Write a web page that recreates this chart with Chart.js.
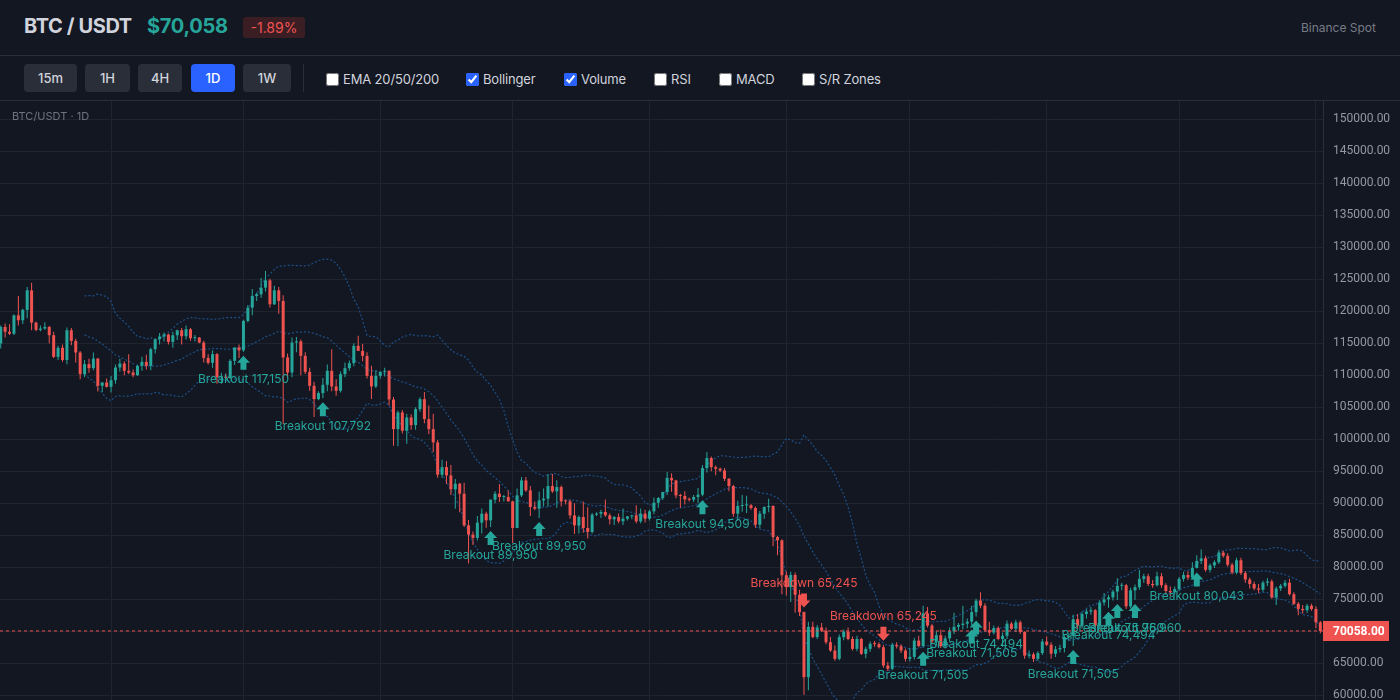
<!DOCTYPE html>
<html lang="en">
<head>
<meta charset="utf-8">
<title>BTC / USDT</title>
<script src="https://cdn.jsdelivr.net/npm/chart.js@4.4.1/dist/chart.umd.min.js"></script>
<style>
  * { box-sizing: border-box; margin: 0; padding: 0; }
  body {
    width: 1400px; height: 700px; overflow: hidden; position: relative;
    background: #131722; color: #d1d4dc;
    font-family: Inter, 'Noto Sans', Roboto, sans-serif;
  }
  .header { position: absolute; left: 0; top: 0; width: 1400px; height: 56px; border-bottom: 1px solid #2a2e39; }
  .pair { position: absolute; left: 24px; top: 14px; font-size: 20px; font-weight: 700; color: #d1d4dc; letter-spacing: -0.4px; }
  .price { position: absolute; left: 147px; top: 14px; font-size: 20px; font-weight: 700; color: #26a69a; letter-spacing: -0.3px; }
  .change {
    position: absolute; left: 243px; top: 17px; width: 62px; height: 21px; line-height: 21px;
    text-align: center; font-size: 14px; color: #ef5350; background: #3b1e24; border-radius: 3px;
  }
  .source { position: absolute; right: 24px; top: 20px; font-size: 12px; color: #787b86; }

  .toolbar { position: absolute; left: 0; top: 56px; width: 1400px; height: 45px; border-bottom: 1px solid #2a2e39; }
  .tf {
    position: absolute; top: 8px; height: 28px; line-height: 28px; text-align: center;
    font-size: 13px; font-weight: 500; color: #d1d4dc; background: #2a2e39; border-radius: 4px;
  }
  .tf.active { background: #2962ff; color: #ffffff; }
  .sep { position: absolute; left: 303px; top: 8px; width: 1px; height: 28px; background: #2a2e39; }
  .opt { position: absolute; top: 15px; display: flex; align-items: center; font-size: 13px; color: #d1d4dc; letter-spacing: -0.15px; }
  .opt input { width: 13px; height: 13px; margin: 0 4px 0 0; accent-color: #2962ff; }

  #chart-wrap { position: absolute; left: 0; top: 101px; width: 1400px; height: 599px; }
  .chart-title { position: absolute; left: 12px; top: 109px; font-size: 11px; color: #6f7380; z-index: 2; }
</style>
</head>
<body>

<div class="header">
  <div class="pair">BTC / USDT</div>
  <div class="price" id="last-price">$70,058</div>
  <div class="change" id="last-change">-1.89%</div>
  <div class="source">Binance Spot</div>
</div>

<div class="toolbar">
  <div class="tf" style="left:24px;width:53px">15m</div>
  <div class="tf" style="left:85px;width:45px">1H</div>
  <div class="tf" style="left:138px;width:44px">4H</div>
  <div class="tf active" style="left:191px;width:44px">1D</div>
  <div class="tf" style="left:243px;width:48px">1W</div>
  <div class="sep"></div>
  <label class="opt" style="left:326px"><input type="checkbox">EMA 20/50/200</label>
  <label class="opt" style="left:466px"><input type="checkbox" checked>Bollinger</label>
  <label class="opt" style="left:564px"><input type="checkbox" checked>Volume</label>
  <label class="opt" style="left:654px"><input type="checkbox">RSI</label>
  <label class="opt" style="left:719px"><input type="checkbox">MACD</label>
  <label class="opt" style="left:802px"><input type="checkbox">S/R Zones</label>
</div>

<div class="chart-title">BTC/USDT · 1D</div>
<div id="chart-wrap"><canvas id="btcChart" width="1400" height="599"></canvas></div>

<script>
// Daily candles, first one is 7 Aug
const firstDay = Date.UTC(2025, 7, 7);

const opens = [
  114960, 117560, 116800, 116500, 119380, 118600, 120220, 123280, 118240, 117100,
  117300, 117560, 116260, 112880, 114300, 112400, 117040, 115380, 113560, 110180,
  111740, 111120, 112620, 108360, 108880, 108200, 109240, 111220, 111840, 110700,
  110440, 110020, 111480, 112100, 111480, 114080, 115640, 116060, 116370, 115220,
  116260, 117040, 116100, 117200, 115800, 115900, 115120, 112720, 111950, 113300,
  109700, 109800, 109600, 112260, 114340, 113900, 118500, 120580, 122400, 122660,
  123700, 124840, 121100, 123280, 121620, 112800, 110440, 115120, 115300, 113040,
  110540, 108360, 106280, 107220, 108520, 110700, 108260, 107580, 110180, 111120,
  111900, 114600, 113820, 113040, 109920, 108260, 109920, 110540, 110700, 106220,
  101600, 104200, 101340, 103420, 102220, 104720, 106280, 103160, 101600, 99520,
  94470, 95660, 94360, 92180, 93060, 91500, 86560, 85110, 84590, 86980,
  88380, 87340, 90570, 91500, 90980, 91000, 90310, 86150, 91240, 93580,
  92020, 89420, 89160, 90460, 90720, 92700, 91870, 92540, 90310, 90300,
  88120, 86560, 87860, 86150, 85520, 88230, 88380, 88640, 88120, 87500,
  87860, 87190, 87600, 87970, 88120, 87190, 88380, 87600, 88750, 90100,
  90820, 91760, 93980, 93580, 91240, 91140, 90620, 90560, 90980, 91350,
  95510, 97070, 95660, 95400, 95140, 93840, 92700, 88380, 89580, 89680,
  89700, 89270, 86670, 88380, 89420, 89580, 84740, 84220, 78760, 76900,
  78800, 75700, 73000, 62840, 70700, 69100, 70600, 70100, 68300, 67000,
  65700, 69100, 69960, 68800, 67260, 68800, 66480, 67260, 68040, 68000,
  67520, 64660, 64140, 67880, 67670, 67000, 65700, 66000, 68560, 67700,
  72800, 70900, 68400, 69400, 67700, 68900, 70000, 70700, 71000, 71200,
  71500, 73000, 74800, 74000, 70200, 69800, 70500, 68800, 69300, 71200,
  70400, 71400, 69900, 66200, 66400, 65700, 66600, 68400, 67900, 66500,
  67200, 67400, 69100, 69300, 71900, 70900, 72700, 73100, 73300, 70900,
  74500, 75000, 75300, 76200, 77100, 77200, 73900, 76400, 76900, 78200,
  78600, 77400, 77200, 78600, 77200, 76300, 76100, 76600, 78200, 78800,
  78400, 79900, 81000, 81400, 79600, 80300, 80800, 82300, 81800, 80400,
  79200, 81100, 79100, 78100, 77400, 76700, 76500, 77600, 77800, 75300,
  76700, 77100, 77600, 75800, 74300, 73500, 73300, 74000, 73500, 71410
];

const highs = [
  117800, 118100, 117980, 119500, 122400, 120400, 123800, 124480, 118350, 117800,
  118300, 117700, 116800, 114600, 114800, 117460, 117400, 115700, 113800, 112400,
  112600, 113560, 112700, 108900, 109500, 109900, 111700, 112600, 112200, 113300,
  110900, 111600, 112900, 113200, 114300, 115800, 116600, 116700, 116500, 116800,
  117100, 117400, 117800, 117400, 116300, 116000, 115400, 113300, 113900, 113500,
  110400, 110300, 112500, 114400, 114800, 118700, 121000, 123500, 122900, 125200,
  126300, 125100, 124000, 123800, 122500, 113400, 115900, 116000, 115600, 113600,
  111200, 109000, 107500, 109600, 111700, 114080, 109400, 110600, 112000, 112300,
  115000, 116200, 114900, 113600, 111500, 110800, 110600, 111200, 110800, 106600,
  104500, 104600, 104000, 103900, 105000, 106580, 107400, 105300, 104000, 99900,
  96800, 96600, 96000, 93800, 93200, 93200, 87400, 85600, 88000, 89200,
  88700, 90600, 91900, 93000, 91300, 92000, 90400, 92300, 94100, 94100,
  92700, 90300, 91800, 92300, 94600, 94600, 93600, 92800, 90600, 90600,
  90000, 88100, 90300, 89400, 88500, 88600, 89000, 90600, 88400, 88000,
  88400, 89200, 88000, 88200, 89700, 89200, 89000, 89000, 90900, 91000,
  91800, 94900, 94700, 93700, 91500, 91900, 90900, 91300, 92400, 96000,
  98000, 97300, 95900, 95600, 95500, 93900, 92900, 90400, 91300, 91200,
  89900, 89500, 88800, 89500, 90700, 89700, 84900, 84400, 79400, 79300,
  79200, 76500, 73100, 71500, 71500, 71000, 71300, 70600, 69100, 67800,
  69500, 70300, 70600, 69200, 69300, 69000, 67600, 68400, 68500, 68300,
  67900, 65200, 68200, 68300, 68000, 67300, 67400, 69000, 69300, 74000,
  73800, 71200, 70000, 70300, 69300, 70600, 72900, 71300, 74000, 72000,
  74000, 75100, 76100, 74400, 71500, 70900, 70800, 69800, 71700, 71500,
  71800, 71700, 70000, 67000, 66700, 66900, 68800, 69200, 68300, 67700,
  67900, 69400, 69700, 72600, 72700, 73100, 73500, 73800, 73500, 74800,
  76000, 75700, 76500, 78300, 77600, 77400, 76800, 77300, 79600, 79000,
  79000, 78000, 79300, 79100, 77500, 77000, 77000, 78500, 79300, 79400,
  80800, 81900, 82800, 81800, 80600, 81100, 82700, 82600, 82200, 80700,
  81500, 81500, 79400, 78400, 77800, 77400, 77900, 78300, 78100, 77000,
  77400, 78000, 78200, 76100, 74600, 74100, 74300, 74300, 73900, 71600
];

const lows = [
  114200, 115900, 116300, 116300, 117800, 118000, 118900, 117040, 116900, 116900,
  117100, 115000, 112700, 112400, 112100, 111740, 114700, 112000, 109400, 109700,
  110400, 110800, 107480, 107400, 108100, 107320, 108700, 110600, 110000, 110200,
  109700, 109900, 110700, 110900, 110800, 113400, 114800, 115300, 114800, 114290,
  115500, 114800, 115600, 115400, 115300, 115000, 112000, 111700, 111200, 108700,
  108700, 109300, 109400, 111600, 112700, 113700, 118300, 119400, 121600, 122100,
  123100, 120600, 121000, 119600, 102400, 109700, 109700, 113600, 110000, 110200,
  107600, 103500, 106100, 106400, 107500, 107500, 106800, 107300, 109700, 110700,
  111400, 113800, 112200, 109500, 106280, 108000, 109500, 109800, 105300, 99000,
  98900, 100900, 99300, 101500, 101500, 104300, 102500, 100800, 98000, 94000,
  94000, 93000, 91300, 89160, 88600, 86300, 80600, 83500, 84200, 85300,
  86200, 86300, 90000, 90200, 90300, 90300, 83800, 86100, 91000, 91800,
  88000, 88900, 87690, 89500, 89500, 91600, 89300, 89500, 89800, 87600,
  85200, 85300, 85400, 84500, 85300, 88000, 87700, 87900, 86700, 86600,
  86900, 86600, 87300, 87500, 86900, 86900, 87000, 87300, 88300, 89300,
  90500, 91300, 91800, 90800, 89300, 89800, 90300, 90200, 90000, 91100,
  94800, 95000, 94400, 94900, 93500, 91900, 87900, 87300, 88700, 88500,
  89000, 86200, 86100, 87600, 88600, 83300, 81900, 75800, 75600, 74600,
  72900, 72400, 60100, 60800, 68900, 68800, 69900, 68000, 66800, 65400,
  65500, 68600, 68600, 67000, 66900, 66300, 65800, 66800, 67600, 67300,
  64300, 63800, 63900, 67300, 66600, 65300, 65300, 65600, 67500, 67420,
  70600, 68000, 67800, 67400, 67300, 68400, 69600, 70100, 70300, 70500,
  70900, 72300, 73600, 70000, 69300, 69500, 68600, 67600, 68800, 70200,
  69900, 69600, 65700, 65800, 65200, 65400, 66300, 67700, 65700, 66000,
  66700, 66700, 68500, 67700, 70400, 70500, 72000, 72600, 70600, 70700,
  74000, 73700, 74800, 74900, 76400, 73500, 73600, 74900, 76500, 77600,
  77100, 76800, 77000, 76800, 75900, 75500, 75700, 76300, 77800, 78000,
  78100, 79800, 80500, 79300, 79200, 79900, 80500, 81500, 80100, 78900,
  78900, 78800, 77600, 76700, 76400, 76000, 76200, 77100, 75100, 74100,
  76300, 76800, 75600, 74100, 72500, 72800, 72900, 73200, 70500, 69700
];

const closes = [
  117560, 116800, 116500, 119380, 118600, 120220, 123280, 118240, 117100, 117300,
  117560, 116260, 112880, 114300, 112400, 117040, 115380, 113560, 110180, 111740,
  111120, 112620, 108360, 108880, 108200, 109240, 111220, 111840, 110700, 110440,
  110020, 111480, 112100, 111480, 114080, 115640, 116060, 116370, 115220, 116260,
  117040, 116100, 117200, 115800, 115900, 115120, 112720, 111950, 113300, 109700,
  109800, 109600, 112260, 114340, 113900, 118500, 120580, 122400, 122660, 123700,
  124840, 121100, 123280, 121620, 112800, 110440, 115120, 115300, 113040, 110540,
  108360, 106280, 107220, 108520, 110700, 108260, 107580, 110180, 111120, 111900,
  114600, 113820, 113040, 109920, 108260, 109920, 110540, 110700, 106220, 101600,
  104200, 101340, 103420, 102220, 104720, 106280, 103160, 101600, 99520, 94470,
  95660, 94360, 92180, 93060, 91500, 86560, 85110, 84590, 86980, 88380,
  87340, 90570, 91500, 90980, 91000, 90310, 86150, 91240, 93580, 92020,
  89420, 89160, 90460, 90720, 92700, 91870, 92540, 90310, 90300, 88120,
  86560, 87860, 86150, 85520, 88230, 88380, 88640, 88120, 87500, 87860,
  87190, 87600, 87970, 88120, 87190, 88380, 87600, 88750, 90100, 90820,
  91760, 93980, 93580, 91240, 91140, 90620, 90560, 90980, 91350, 95510,
  97070, 95660, 95400, 95140, 93840, 92700, 88380, 89580, 89680, 89700,
  89270, 86670, 88380, 89420, 89580, 84740, 84220, 78760, 76900, 78800,
  75700, 73000, 62840, 70700, 69100, 70600, 70100, 68300, 67000, 65700,
  69100, 69960, 68800, 67260, 68800, 66480, 67260, 68040, 68000, 67520,
  64660, 64140, 67880, 67670, 67000, 65700, 66000, 68560, 67700, 72800,
  70900, 68400, 69400, 67700, 68900, 70000, 70700, 71000, 71200, 71500,
  73000, 74800, 74000, 70200, 69800, 70500, 68800, 69300, 71200, 70400,
  71400, 69900, 66200, 66400, 65700, 66600, 68400, 67900, 66500, 67200,
  67400, 69100, 69300, 71900, 70900, 72700, 73100, 73300, 70900, 74500,
  75000, 75300, 76200, 77100, 77200, 73900, 76400, 76900, 78200, 78600,
  77400, 77200, 78600, 77200, 76300, 76100, 76600, 78200, 78800, 78400,
  79900, 81000, 81400, 79600, 80300, 80800, 82300, 81800, 80400, 79200,
  81100, 79100, 78100, 77400, 76700, 76500, 77600, 77800, 75300, 76700,
  77100, 77600, 75800, 74300, 73500, 73300, 74000, 73500, 71410, 70058
];

// Breakout / breakdown signals (candle index, direction, text)
const signalIdx = [55, 73, 111, 122, 159, 182, 200, 209, 220, 221, 243, 251, 253, 257, 271];
const signalDir = ['up', 'up', 'up', 'up', 'up', 'down', 'down', 'up', 'up', 'up', 'up', 'up', 'up', 'up', 'up'];
const signalText = [
  'Breakout 117,150', 'Breakout 107,792', 'Breakout 89,950', 'Breakout 89,950', 'Breakout 94,509',
  'Breakdown 65,245', 'Breakdown 65,245', 'Breakout 71,505', 'Breakout 71,505', 'Breakout 74,494',
  'Breakout 71,505', 'Breakout 74,494', 'Breakout 75,960', 'Breakout 75,960', 'Breakout 80,043'
];

// Price axis ticks
const yTicks = [60000, 65000, 70000, 75000, 80000, 85000, 90000, 95000, 100000, 105000,
  110000, 115000, 120000, 125000, 130000, 135000, 140000, 145000, 150000];

const upColor = '#26a69a';
const downColor = '#ef5350';
const gridColor = '#20242f';
const bandColor = '#1c5088';
const xMin = -0.16;
const xMax = 299.6;

const lastIdx = closes.length - 1;
const lastPrice = closes[lastIdx];

// header numbers follow the last candle
document.getElementById('last-price').innerText = '$' + lastPrice.toLocaleString('en-US');
const pct = (lastPrice - opens[lastIdx]) / opens[lastIdx] * 100;
document.getElementById('last-change').innerText = (pct > 0 ? '+' : '') + pct.toFixed(2) + '%';

// month boundaries give the vertical grid lines
const monthStarts = [];
closes.forEach((_, i) => {
  if (new Date(firstDay + i * 86400000).getUTCDate() === 1) monthStarts.push(i);
});

function bollinger(values, period, mult) {
  const upper = [], middle = [], lower = [];
  for (let i = period - 1; i < values.length; i++) {
    const win = values.slice(i - period + 1, i + 1);
    const mean = win.reduce((a, b) => a + b, 0) / period;
    const sd = Math.sqrt(win.reduce((a, b) => a + (b - mean) * (b - mean), 0) / period);
    upper.push({ x: i, y: mean + mult * sd });
    middle.push({ x: i, y: mean });
    lower.push({ x: i, y: mean - mult * sd });
  }
  return { upper, middle, lower };
}

const bands = bollinger(closes, 20, 2);
const candleColors = closes.map((c, i) => (c >= opens[i] ? upColor : downColor));

function bandLine(label, data) {
  return {
    type: 'line', label, data,
    borderColor: bandColor, borderWidth: 1.2, borderDash: [2, 2],
    pointRadius: 0, tension: 0, order: 3
  };
}

// Arrows, signal texts and the price tag on the axis
const overlayPlugin = {
  id: 'overlay',
  afterDatasetsDraw(chart) {
    const { ctx, chartArea, scales: { x, y } } = chart;
    ctx.save();
    ctx.beginPath();
    ctx.rect(chartArea.left, chartArea.top, chartArea.right - chartArea.left, chartArea.bottom - chartArea.top);
    ctx.clip();

    ctx.font = '12px Inter, "Noto Sans", sans-serif';
    ctx.textAlign = 'center';
    ctx.textBaseline = 'middle';
    signalIdx.forEach((idx, k) => {
      const cx = x.getPixelForValue(idx);
      if (signalDir[k] === 'up') {
        const top = y.getPixelForValue(lows[idx]) + 4;
        ctx.fillStyle = upColor;
        ctx.beginPath();
        ctx.moveTo(cx, top);
        ctx.lineTo(cx + 6.5, top + 7);
        ctx.lineTo(cx + 3, top + 7);
        ctx.lineTo(cx + 3, top + 14);
        ctx.lineTo(cx - 3, top + 14);
        ctx.lineTo(cx - 3, top + 7);
        ctx.lineTo(cx - 6.5, top + 7);
        ctx.closePath();
        ctx.fill();
        ctx.fillText(signalText[k], cx, top + 24);
      } else {
        const bottom = y.getPixelForValue(highs[idx]) - 4;
        ctx.fillStyle = downColor;
        ctx.beginPath();
        ctx.moveTo(cx, bottom);
        ctx.lineTo(cx + 6.5, bottom - 7);
        ctx.lineTo(cx + 3, bottom - 7);
        ctx.lineTo(cx + 3, bottom - 14);
        ctx.lineTo(cx - 3, bottom - 14);
        ctx.lineTo(cx - 3, bottom - 7);
        ctx.lineTo(cx - 6.5, bottom - 7);
        ctx.closePath();
        ctx.fill();
        ctx.fillText(signalText[k], cx, bottom - 24);
      }
    });
    ctx.restore();
  },
  afterDraw(chart) {
    const { ctx, chartArea, scales: { y } } = chart;
    const py = Math.round(y.getPixelForValue(lastPrice));
    ctx.save();
    ctx.fillStyle = downColor;
    ctx.fillRect(chartArea.right, py - 10, 66, 20);
    ctx.fillStyle = '#ffffff';
    ctx.font = 'bold 12px Roboto, "Noto Sans", sans-serif';
    ctx.textAlign = 'left';
    ctx.textBaseline = 'middle';
    ctx.fillText(lastPrice.toFixed(2), chartArea.right + 10, py + 0.5);
    ctx.restore();
  }
};

const ctx = document.getElementById('btcChart').getContext('2d');

new Chart(ctx, {
  type: 'bar',
  data: {
    datasets: [
      {
        // dashed line at the last traded price
        type: 'line',
        label: 'Last price',
        data: [{ x: xMin, y: lastPrice }, { x: xMax, y: lastPrice }],
        borderColor: downColor,
        borderWidth: 1,
        borderDash: [3, 3],
        pointRadius: 0,
        order: 0
      },
      {
        label: 'Body',
        data: closes.map((c, i) => ({ x: i, y: [opens[i], c] })),
        backgroundColor: candleColors,
        barThickness: 3,
        minBarLength: 1,
        grouped: false,
        inflateAmount: 0,
        order: 1
      },
      {
        label: 'Wick',
        data: closes.map((c, i) => ({ x: i, y: [lows[i], highs[i]] })),
        backgroundColor: candleColors,
        barThickness: 1,
        grouped: false,
        inflateAmount: 0,
        order: 2
      },
      bandLine('BB upper', bands.upper),
      bandLine('BB middle', bands.middle),
      bandLine('BB lower', bands.lower)
    ]
  },
  options: {
    responsive: false,
    animation: false,
    layout: { padding: 0 },
    plugins: {
      legend: { display: false },
      tooltip: { enabled: false }
    },
    scales: {
      x: {
        type: 'linear',
        min: xMin,
        max: xMax,
        offset: false,
        grid: { color: gridColor, drawTicks: false, offset: false },
        border: { display: false },
        ticks: { display: false },
        afterBuildTicks: (axis) => { axis.ticks = monthStarts.map((v) => ({ value: v })); },
        afterFit: (axis) => {
          // the time axis sits below the window, so it takes no room here
          axis.height = 0;
          axis.paddingLeft = 0;
          axis.paddingRight = 0;
        }
      },
      y: {
        position: 'right',
        min: 59270,
        max: 152860,
        beginAtZero: false,
        grid: { color: gridColor, drawTicks: false },
        border: { color: '#2a2e39' },
        ticks: {
          color: '#9598a1',
          padding: 10,
          font: { size: 12, family: 'Roboto, "Noto Sans", sans-serif' },
          callback: (v) => Number(v).toFixed(2)
        },
        afterBuildTicks: (axis) => { axis.ticks = yTicks.map((v) => ({ value: v })); },
        afterFit: (axis) => {
          axis.width = 77;
          axis.paddingTop = 0;
          axis.paddingBottom = 0;
        }
      }
    }
  },
  plugins: [overlayPlugin]
});
</script>
</body>
</html>
